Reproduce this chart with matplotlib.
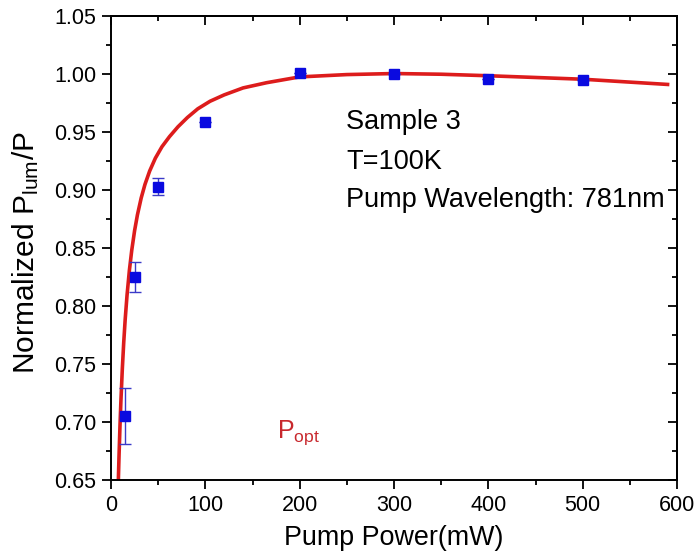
import matplotlib
matplotlib.use("Agg")
import matplotlib.pyplot as plt
from matplotlib.ticker import MultipleLocator, FormatStrFormatter

plt.rcParams['font.family'] = ['Liberation Sans', 'DejaVu Sans']
plt.rcParams['mathtext.fontset'] = 'custom'
plt.rcParams['mathtext.rm'] = 'Liberation Sans'
plt.rcParams['mathtext.it'] = 'Liberation Sans'

# Measured points
power_mw = [15, 25, 50, 100, 200, 300, 400, 500]
norm_ratio = [0.705, 0.825, 0.903, 0.959, 1.001, 1.000, 0.996, 0.995]
ratio_err = [0.024, 0.013, 0.007, 0.0, 0.0, 0.0, 0.0, 0.0]

# Fitted curve
fit_power = [7.8, 8.5, 9.5, 10.5, 12.0, 13.5, 15.0, 17.0, 19.5, 22.0, 25.0,
             28.0, 32.0, 36.0, 41.0, 47.0, 54.0, 62.0, 71.0, 81.0, 92.0,
             105.0, 120.0, 140.0, 165.0, 200.0, 250.0, 300.0, 350.0, 400.0,
             450.0, 500.0, 550.0, 590.0]
fit_ratio = [0.650, 0.6705, 0.6961, 0.7181, 0.7458, 0.7687, 0.788, 0.8093,
             0.8308, 0.8481, 0.8649, 0.8785, 0.8931, 0.9048, 0.9164, 0.9274,
             0.9373, 0.946, 0.9545, 0.9625, 0.970, 0.9765, 0.982, 0.988,
             0.9925, 0.9975, 0.9995, 1.0004, 0.9998, 0.9985, 0.997, 0.9955,
             0.993, 0.991]

fig = plt.figure(figsize=(6.96, 5.6), dpi=100)
ax = fig.add_axes([111 / 696, 1 - 480 / 560, 566 / 696, 464 / 560])

ax.plot(fit_power, fit_ratio, color='#dd1c1c', lw=2.6, zorder=2,
        solid_joinstyle='round')
ax.errorbar(power_mw, norm_ratio, yerr=ratio_err, fmt='s', color='#0a0ae0',
            ms=6.5, mec='#0a0ae0', ecolor='#3a3ac8', elinewidth=1.0,
            capsize=4, capthick=1.0, zorder=3)

ax.set_xlim(0, 600)
ax.set_ylim(0.65, 1.05)
ax.xaxis.set_major_locator(MultipleLocator(100))
ax.xaxis.set_minor_locator(MultipleLocator(50))
ax.yaxis.set_major_locator(MultipleLocator(0.05))
ax.yaxis.set_minor_locator(MultipleLocator(0.025))
ax.yaxis.set_major_formatter(FormatStrFormatter('%.2f'))

for s in ax.spines.values():
    s.set_linewidth(1.4)

ax.tick_params(which='both', direction='out', top=False, right=False,
               labelsize=15.5, width=1.3, pad=4)
ax.tick_params(which='major', length=6.5)
ax.tick_params(which='minor', length=3.8)

# Mirrored inward ticks on the top and right edges
top = ax.secondary_xaxis('top')
top.xaxis.set_major_locator(MultipleLocator(100))
top.xaxis.set_minor_locator(MultipleLocator(50))
top.set_xticklabels([])
right = ax.secondary_yaxis('right')
right.yaxis.set_major_locator(MultipleLocator(0.05))
right.yaxis.set_minor_locator(MultipleLocator(0.025))
right.set_yticklabels([])
for sec, side in ((top, 'top'), (right, 'right')):
    sec.tick_params(which='both', direction='in', width=1.3)
    sec.tick_params(which='major', length=6.5)
    sec.tick_params(which='minor', length=3.8)
    sec.spines[side].set_linewidth(1.4)

ax.set_xlabel('Pump Power(mW)', fontsize=19.4)
ax.xaxis.set_label_coords(0.5, -0.097)
ax.set_ylabel(r'Normalized P$_{\mathrm{lum}}$/P', fontsize=21.5)
ax.yaxis.set_label_coords(-0.124, 0.49)

ax.text(249, 0.9586, 'Sample 3', fontsize=19.5, va='center', ha='left')
ax.text(249, 0.924, 'T=100K', fontsize=19.5, va='center', ha='left')
ax.text(249, 0.891, 'Pump Wavelength: 781nm', fontsize=19.5, va='center',
        ha='left')
ax.text(176, 0.691, r'P$_{\mathrm{opt}}$', fontsize=18, va='center', ha='left',
        color='#c8282d')

fig.savefig('out.png', dpi=100)
